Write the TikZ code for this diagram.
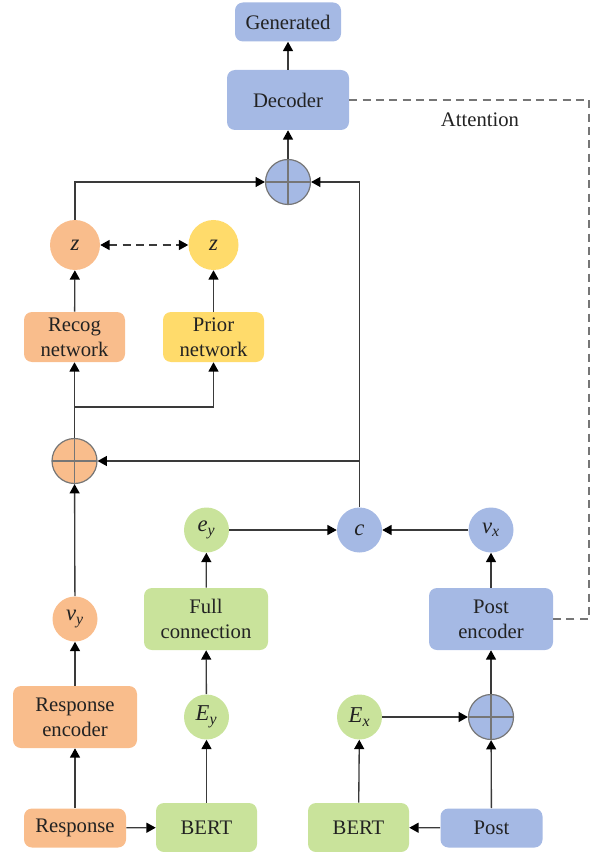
\documentclass[tikz,border=0pt]{standalone}
\usepackage{fontspec}
\setmainfont{Liberation Serif}
\usepackage{xcolor}
\usepackage{tikz}
\usetikzlibrary{arrows.meta,positioning}
\definecolor{ink}{HTML}{222222}
\definecolor{wire}{HTML}{3A3A3A}
\definecolor{rim}{HTML}{767676}
\definecolor{peach}{HTML}{F9BD8C}
\definecolor{sun}{HTML}{FFDB6B}
\definecolor{leaf}{HTML}{C9E39B}
\definecolor{sky}{HTML}{A5B9E4}
% italic symbol with an italic subscript
\newcommand{\varsub}[2]{\textit{#1}\textsubscript{\textit{#2}}}

\begin{document}
\begin{tikzpicture}[
  x=0.75pt, y=-0.75pt,
  font=\fontsize{15.5}{18.5}\selectfont,
  >={Triangle[length=7pt,width=7.5pt,color=black]},
  box/.style={rounded corners=6pt, align=center, inner sep=2pt, text=ink},
  blob/.style={circle, inner sep=0pt, minimum size=33.75pt, text=ink, font=\fontsize{17}{18}\selectfont},
  sum/.style={circle, draw=rim, line width=0.9pt, minimum size=33.75pt, inner sep=0pt,
    path picture={\draw[rim, line width=0.9pt]
      (path picture bounding box.north) -- (path picture bounding box.south)
      (path picture bounding box.west) -- (path picture bounding box.east);}},
  arr/.style={->, line width=1pt, wire},
  att/.style={dashed, dash pattern=on 6pt off 4pt, line width=1pt, rim}
]
  \useasboundingbox (0,0) rectangle (599,852);

  % decoder side
  \node[box, fill=sky, minimum width=79.5pt, minimum height=29.25pt] (gen) at (288,22) {Generated};
  \node[box, fill=sky, minimum width=91.5pt, minimum height=45pt] (dec) at (288,100) {Decoder};
  \node[sum, fill=sky] (plust) at (288,182) {};

  % latent variables
  \node[blob, fill=peach, minimum size=37.5pt] (zr) at (75,245) {\textit{z}};
  \node[blob, fill=sun, minimum size=37.5pt] (zp) at (213.5,245) {\textit{z}};
  \node[box, fill=peach, minimum width=75.75pt, minimum height=37.5pt] (recog) at (74.5,337) {Recog\\network};
  \node[box, fill=sun, minimum width=75.75pt, minimum height=37.5pt] (prior) at (213.5,337) {Prior\\network};
  \node[sum, fill=peach] (plusl) at (74.5,461) {};

  % middle row
  \node[blob, fill=leaf] (ey) at (206.5,530) {\varsub{e}{y}};
  \node[blob, fill=sky] (c) at (359.5,530) {\textit{c}};
  \node[blob, fill=sky] (vx) at (491,530) {\varsub{v}{x}};
  \node[blob, fill=peach] (vy) at (75,619) {\varsub{v}{y}};
  \node[box, fill=leaf, minimum width=93pt, minimum height=46.5pt] (fc) at (206,619) {Full\\connection};
  \node[box, fill=sky, minimum width=93pt, minimum height=46.5pt] (postenc) at (491,619) {Post\\encoder};

  % inputs
  \node[box, fill=peach, minimum width=93pt, minimum height=46.5pt] (respenc) at (75,717) {Response\\encoder};
  \node[blob, fill=leaf] (Ey) at (206.5,717) {\varsub{E}{y}};
  \node[blob, fill=leaf] (Ex) at (359.5,717) {\varsub{E}{x}};
  \node[sum, fill=sky] (plusb) at (491,717) {};
  \node[box, fill=peach, minimum width=76.5pt, minimum height=29.25pt] (resp) at (75,828) {Response};
  \node[box, fill=leaf, minimum width=75.75pt, minimum height=36.75pt] (bertl) at (206.5,827.5) {BERT};
  \node[box, fill=leaf, minimum width=75.75pt, minimum height=36.75pt] (bertr) at (358.5,827.5) {BERT};
  \node[box, fill=sky, minimum width=76.5pt, minimum height=29.25pt] (post) at (491.5,828) {Post};

  \coordinate (fork) at (74.5,407);
  \coordinate (tap) at (c |- plusl);
  \coordinate (bend) at (589,100);

  \draw[arr] (resp) -- (bertl);
  \draw[arr] (post) -- (bertr);
  \draw[arr] (resp) -- (respenc);
  \draw[arr] (respenc) -- (vy);
  \draw[arr] (vy) -- (plusl);
  \draw[arr] (bertl) -- (Ey);
  \draw[arr] (Ey) -- (fc);
  \draw[arr] (fc) -- (ey);
  \draw[arr] (bertr) -- (Ex);
  \draw[arr] (Ex) -- (plusb);
  \draw[arr] (post) -- (plusb);
  \draw[arr] (plusb) -- (postenc);
  \draw[arr] (postenc) -- (vx);
  \draw[arr] (ey) -- (c);
  \draw[arr] (vx) -- (c);
  \draw[arr] (c) |- (plust);
  \draw[arr] (tap) -- (plusl);
  \draw[arr] (plusl) -- (recog);
  \draw[arr] (fork) -| (prior);
  \draw[arr] (recog) -- (zr);
  \draw[arr] (prior) -- (zp);
  \draw[arr, <->, dashed, dash pattern=on 6pt off 4pt] (zr) -- (zp);
  \draw[arr] (zr) |- (plust);
  \draw[arr] (plust) -- (dec);
  \draw[arr] (dec) -- (gen);

  % attention link
  \draw[att] (dec) -- (bend) |- (postenc);
  \node[text=ink] (attn) at (480,120) {Attention};
\end{tikzpicture}
\end{document}
